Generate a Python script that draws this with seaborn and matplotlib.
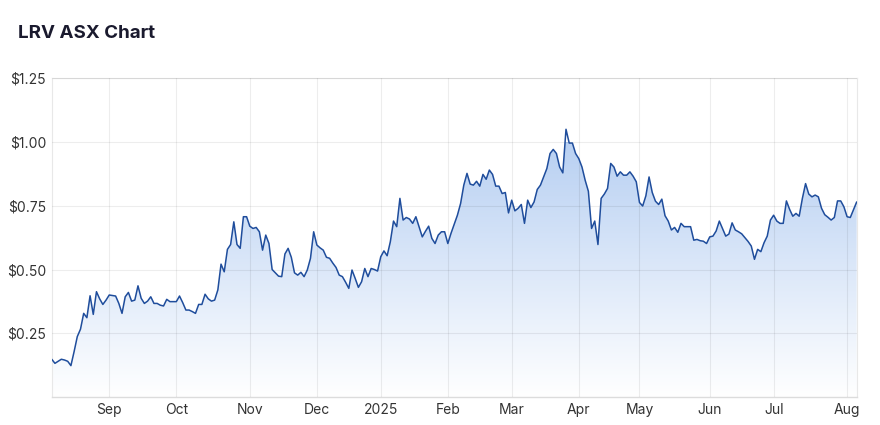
import numpy as np
import pandas as pd
import matplotlib
matplotlib.use("Agg")
import matplotlib.pyplot as plt
from matplotlib.colors import LinearSegmentedColormap
import seaborn as sns

# daily closes (AUD), one list per month
aug24 = [0.148, 0.132, 0.140, 0.148, 0.145, 0.140, 0.123, 0.178, 0.237, 0.266,
         0.328, 0.311, 0.397, 0.324, 0.413, 0.385, 0.363, 0.380]
sep24 = [0.400, 0.398, 0.396, 0.367, 0.328, 0.393, 0.410, 0.376, 0.380, 0.436,
         0.387, 0.367, 0.376, 0.393, 0.367, 0.367, 0.360, 0.357, 0.383, 0.374, 0.374]
oct24 = [0.374, 0.396, 0.370, 0.341, 0.341, 0.335, 0.328, 0.363, 0.363, 0.403,
         0.385, 0.376, 0.380, 0.420, 0.521, 0.491, 0.579, 0.598, 0.687, 0.598,
         0.583, 0.707, 0.707]
nov24 = [0.670, 0.661, 0.665, 0.648, 0.576, 0.635, 0.602, 0.500, 0.487, 0.474,
         0.472, 0.561, 0.583, 0.548, 0.487, 0.478, 0.489, 0.472, 0.498, 0.544, 0.648]
dec24 = [0.596, 0.585, 0.576, 0.548, 0.544, 0.525, 0.508, 0.478, 0.472, 0.450,
         0.426, 0.498, 0.465, 0.430, 0.452, 0.504, 0.472, 0.504, 0.500, 0.494]
jan25 = [0.550, 0.573, 0.554, 0.609, 0.690, 0.668, 0.779, 0.694, 0.704, 0.698,
         0.681, 0.707, 0.668, 0.628, 0.650, 0.670, 0.622, 0.602, 0.635, 0.648, 0.648]
feb25 = [0.602, 0.642, 0.678, 0.713, 0.759, 0.831, 0.877, 0.835, 0.831, 0.846,
         0.827, 0.873, 0.854, 0.890, 0.873, 0.827, 0.827, 0.798, 0.802, 0.722]
mar25 = [0.772, 0.730, 0.740, 0.755, 0.681, 0.772, 0.743, 0.765, 0.814, 0.831,
         0.863, 0.896, 0.955, 0.971, 0.955, 0.902, 0.879, 1.050, 0.996, 0.996, 0.955]
apr25 = [0.935, 0.902, 0.850, 0.807, 0.661, 0.690, 0.598, 0.779, 0.796, 0.818,
         0.916, 0.902, 0.866, 0.883, 0.870, 0.870, 0.883, 0.866, 0.844]
may25 = [0.763, 0.749, 0.789, 0.863, 0.802, 0.768, 0.755, 0.776, 0.711, 0.690,
         0.655, 0.665, 0.646, 0.681, 0.668, 0.668, 0.668, 0.615, 0.618, 0.613,
         0.611, 0.602]
jun25 = [0.628, 0.631, 0.651, 0.690, 0.661, 0.631, 0.639, 0.683, 0.655, 0.648,
         0.640, 0.625, 0.610, 0.592, 0.540, 0.579, 0.570, 0.605, 0.631, 0.694]
jul25 = [0.713, 0.690, 0.681, 0.681, 0.769, 0.736, 0.709, 0.720, 0.709, 0.779,
         0.837, 0.796, 0.785, 0.792, 0.785, 0.740, 0.715, 0.705, 0.694, 0.704,
         0.769, 0.769, 0.746]
aug25 = [0.707, 0.704, 0.735, 0.765]

y_ticks = [0.25, 0.50, 0.75, 1.00, 1.25]
y_labels = ["$0.25", "$0.50", "$0.75", "$1.00", "$1.25"]

# ASX trading days (x axis is spaced by trading day, not calendar day)
holidays = pd.to_datetime(["2024-12-25", "2024-12-26", "2025-01-01", "2025-01-27",
                           "2025-04-18", "2025-04-21", "2025-04-25", "2025-06-09"])
days = pd.bdate_range("2024-08-07", "2025-08-06")
days = days[~days.isin(holidays)]

prices = aug24 + sep24 + oct24 + nov24 + dec24 + jan25 + feb25 + mar25 + apr25 + may25 + jun25 + jul25 + aug25
df = pd.DataFrame({"date": days, "price": prices})
df["pos"] = np.arange(len(df))

month_first = df.groupby(df["date"].dt.to_period("M"))["pos"].first().iloc[1:]
month_labels = [str(p.year) if p.month == 1 else p.strftime("%b") for p in month_first.index]

sns.set_style("white")
plt.rcParams["font.family"] = ["Inter", "DejaVu Sans"]

fig = plt.figure(figsize=(8.8, 4.25), dpi=100)
ax = fig.add_axes([0.0588, 0.0659, 0.9147, 0.7499])

line_col = "#1f4d9c"
sns.lineplot(data=df, x="pos", y="price", ax=ax, color=line_col, linewidth=1.1, zorder=3)

# gradient fill under the line
fill = ax.fill_between(df["pos"], df["price"], 0, color="none", linewidth=0)
cmap = LinearSegmentedColormap.from_list("fade", ["#ffffff", "#dce8f9", "#b8d0f2"])
grad = np.linspace(0, 1, 256).reshape(-1, 1)
img = ax.imshow(grad, extent=[0, len(df) - 1, 0, 1.0], aspect="auto", origin="lower",
                cmap=cmap, zorder=1)
img.set_clip_path(fill.get_paths()[0], transform=ax.transData)

ax.set_xlim(0, len(df) - 1)
ax.set_ylim(0, 1.25)
ax.set_yticks(y_ticks)
ax.set_yticklabels(y_labels)
ax.set_xticks(month_first.values)
ax.set_xticklabels(month_labels)
ax.set_xlabel("")
ax.set_ylabel("")

ax.set_axisbelow(False)
ax.grid(True, color="#000000", alpha=0.07, linewidth=0.8)
ax.tick_params(length=0, labelsize=10, colors="#333333", pad=4)
for s in ["left", "right", "top"]:
    ax.spines[s].set_color("#e8e8e8")
    ax.spines[s].set_linewidth(0.8)
ax.spines["bottom"].set_color("#dcdcdc")
ax.spines["bottom"].set_linewidth(1.0)

fig.text(18 / 880, 1 - 33 / 425, "LRV ASX Chart", fontsize=13.5, fontweight="bold",
         color="#1a1a2e", va="center", ha="left")

fig.savefig("out.png", dpi=100)
